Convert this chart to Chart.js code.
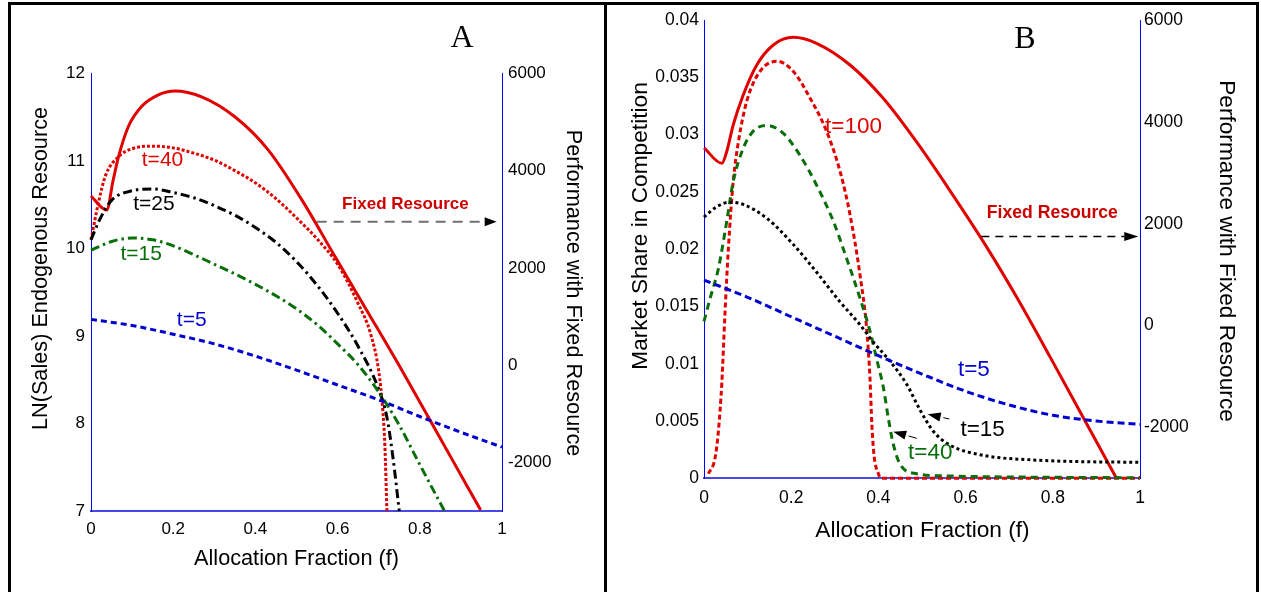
<!DOCTYPE html>
<html>
<head>
<meta charset="utf-8">
<script src="https://cdn.jsdelivr.net/npm/chart.js@4.4.0/dist/chart.umd.min.js"></script>
<style>
  html, body { margin: 0; padding: 0; background: #fff; }
  #page { position: relative; width: 1261px; height: 592px; overflow: hidden; background: #fff; }
  .rule { position: absolute; background: #000; }
  canvas { position: absolute; top: 0; }
</style>
</head>
<body>
<div id="page">
  <canvas id="chartA" width="593" height="592" style="left:11px"></canvas>
  <canvas id="chartB" width="649" height="592" style="left:607px"></canvas>
  <div class="rule" style="left:8px;top:2px;width:1251px;height:3px"></div>
  <div class="rule" style="left:8px;top:2px;width:3px;height:590px"></div>
  <div class="rule" style="left:604px;top:2px;width:3px;height:590px"></div>
  <div class="rule" style="left:1256px;top:2px;width:3px;height:590px"></div>
</div>
<script>
Chart.defaults.font.family = '"Liberation Sans", Arial, sans-serif';
Chart.defaults.color = '#000';

const SANS = '"Liberation Sans", Arial, sans-serif';
const SERIF = '"Liberation Serif", "Times New Roman", serif';

// shared tick values
const fTicks = [0, 0.2, 0.4, 0.6, 0.8, 1];
const perfTicks = [-2000, 0, 2000, 4000, 6000];

// ---- panel A: LN(Sales) vs allocation fraction ----
const salesTicksA = [7, 8, 9, 10, 11, 12];

const fA5 = [0, 0.1, 0.2, 0.3, 0.4, 0.5, 0.6, 0.7, 0.8, 0.9, 1];
const salesA5 = [9.19, 9.12, 9.02, 8.91, 8.77, 8.61, 8.44, 8.27, 8.08, 7.90, 7.73];

const fA15 = [0, 0.05, 0.1, 0.15, 0.2, 0.25, 0.3, 0.35, 0.4, 0.45, 0.5, 0.55, 0.6, 0.65, 0.7, 0.75, 0.8, 0.86];
const salesA15 = [9.98, 10.08, 10.12, 10.10, 10.03, 9.93, 9.82, 9.71, 9.59, 9.46, 9.31, 9.13, 8.91, 8.67, 8.36, 7.98, 7.53, 7.00];

const fA25 = [0, 0.02, 0.05, 0.1, 0.15, 0.2, 0.25, 0.3, 0.35, 0.4, 0.45, 0.5, 0.55, 0.6, 0.65, 0.7, 0.72, 0.735, 0.75];
const salesA25 = [10.10, 10.32, 10.55, 10.66, 10.68, 10.64, 10.58, 10.49, 10.38, 10.24, 10.07, 9.85, 9.58, 9.26, 8.88, 8.39, 8.07, 7.60, 7.00];

const fA40 = [0, 0.018, 0.035, 0.067, 0.1, 0.15, 0.2, 0.25, 0.3, 0.35, 0.4, 0.45, 0.5, 0.55, 0.6, 0.65, 0.68, 0.7, 0.71, 0.715, 0.72];
const salesA40 = [10.10, 10.52, 10.83, 11.05, 11.14, 11.17, 11.15, 11.09, 11.01, 10.89, 10.75, 10.57, 10.35, 10.11, 9.82, 9.37, 9.03, 8.60, 8.15, 7.75, 7.00];

const fAfix = [0, 0.038, 0.054, 0.067, 0.091, 0.123, 0.164, 0.204, 0.269, 0.35, 0.431, 0.513, 0.594, 0.675, 0.756, 0.837, 0.918, 0.948];
const perfA = [3480, 3190, 3810, 4290, 4910, 5320, 5560, 5640, 5520, 5110, 4430, 3400, 2230, 1070, -100, -1315, -2530, -2980];

// ---- panel B: market share vs allocation fraction ----
const shareTicksB = [0, 0.005, 0.01, 0.015, 0.02, 0.025, 0.03, 0.035, 0.04];

const fB5 = [0, 0.1, 0.2, 0.3, 0.4, 0.5, 0.6, 0.7, 0.8, 0.9, 1];
const shareB5 = [0.0173, 0.0158, 0.0141, 0.0124, 0.0107, 0.0091, 0.0076, 0.0064, 0.0055, 0.0050, 0.0047];

const fB15 = [0, 0.029, 0.06, 0.09, 0.144, 0.205, 0.258, 0.312, 0.358, 0.388, 0.427, 0.465, 0.495, 0.526, 0.564, 0.641, 0.755, 0.87, 1];
const shareB15 = [0.0228, 0.0237, 0.0241, 0.0239, 0.0227, 0.0204, 0.0180, 0.0154, 0.0134, 0.0119, 0.0102, 0.0082, 0.0060, 0.0041, 0.0029, 0.0020, 0.0016, 0.00145, 0.0014];

const fB40 = [0, 0.014, 0.033, 0.052, 0.067, 0.09, 0.113, 0.144, 0.182, 0.22, 0.258, 0.297, 0.327, 0.358, 0.381, 0.396, 0.411, 0.423, 0.434, 0.45, 0.488, 0.564, 0.755, 1];
const shareB40 = [0.0137, 0.0157, 0.0183, 0.0224, 0.0259, 0.0288, 0.0303, 0.0308, 0.0301, 0.0282, 0.0256, 0.0224, 0.0192, 0.0157, 0.0128, 0.0104, 0.0080, 0.0052, 0.0030, 0.0012, 0.0004, 0.0002, 0.0001, 0.00005];

const fB100 = [0.01, 0.025, 0.033, 0.041, 0.048, 0.056, 0.067, 0.079, 0.098, 0.128, 0.167, 0.205, 0.243, 0.281, 0.312, 0.335, 0.358, 0.373, 0.381, 0.385, 0.39, 0.4, 0.406, 1];
const shareB100 = [0.0004, 0.0017, 0.0041, 0.0084, 0.0143, 0.0201, 0.0259, 0.0294, 0.0329, 0.0355, 0.0364, 0.0355, 0.0332, 0.0303, 0.0268, 0.0230, 0.0177, 0.0131, 0.0085, 0.0047, 0.0020, 0.0004, 0, 0];

const fBfix = [0, 0.041, 0.052, 0.067, 0.09, 0.121, 0.159, 0.205, 0.258, 0.335, 0.411, 0.488, 0.564, 0.647, 0.717, 0.794, 0.87, 0.946];
const perfB = [3490, 3185, 3414, 3938, 4527, 5116, 5509, 5659, 5542, 5116, 4462, 3600, 2650, 1560, 560, -620, -1810, -3000];

const RED = '#e00000';
const GREEN = '#0a6e0a';
const BLUE = '#0000d0';

function series(fs, vs, color, width, dash, axisId) {
  return {
    data: fs.map((f, i) => ({ x: f, y: vs[i] })),
    borderColor: color,
    borderWidth: width,
    borderDash: dash,
    yAxisID: axisId,
    pointRadius: 0,
    fill: false,
    clip: 3,
    tension: 0.4,
    cubicInterpolationMode: 'monotone'
  };
}

// linear axis with fixed tick list and a fixed box size
function axis(position, min, max, ticks, fmt, size, pad, fontSize, border) {
  return {
    type: 'linear',
    position: position,
    min: min,
    max: max,
    grid: { display: false, drawTicks: false },
    border: border,
    afterBuildTicks: s => { s.ticks = ticks.map(v => ({ value: v })); },
    afterFit: s => { if (s.isHorizontal()) s.height = size; else s.width = size; },
    ticks: {
      padding: pad,
      autoSkip: false,
      maxRotation: 0,
      font: { size: fontSize },
      callback: fmt
    }
  };
}

const fmtF = v => String(+v.toFixed(1));
const fmtInt = v => String(v);
const fmtShare = v => String(+v.toFixed(3));

const sideBorder = { display: true, color: '#0000ff', width: 1 };
const baseBorder = { display: true, color: '#4848e8', width: 2 };

// labels, arrows and axis titles drawn on top of the plot
function notesPlugin(notes) {
  return {
    id: 'notes',
    afterDraw(chart) {
      const ctx = chart.ctx;
      const px = f => chart.scales.x.getPixelForValue(f);
      const py = v => chart.scales.y.getPixelForValue(v);
      ctx.save();

      notes.arrows.forEach(a => {
        const x0 = px(a.from[0]), y0 = py(a.from[1]);
        const x1 = px(a.to[0]), y1 = py(a.to[1]);
        const ang = Math.atan2(y1 - y0, x1 - x0);
        const c = Math.cos(ang), s = Math.sin(ang);
        ctx.strokeStyle = a.color;
        ctx.lineWidth = a.width;
        ctx.setLineDash(a.dash);
        ctx.beginPath();
        ctx.moveTo(x0, y0);
        ctx.lineTo(x1 - c * (a.head + a.gap), y1 - s * (a.head + a.gap));
        ctx.stroke();
        ctx.setLineDash([]);
        ctx.fillStyle = '#000';
        ctx.beginPath();
        ctx.moveTo(x1, y1);
        ctx.lineTo(x1 - c * a.head + s * a.half, y1 - s * a.head - c * a.half);
        ctx.lineTo(x1 - c * a.head - s * a.half, y1 - s * a.head + c * a.half);
        ctx.closePath();
        ctx.fill();
      });

      ctx.textAlign = 'center';
      ctx.textBaseline = 'middle';
      notes.labels.forEach(l => {
        ctx.font = l.font;
        ctx.fillStyle = l.color;
        ctx.fillText(l.text, px(l.f), py(l.v));
      });

      notes.titles.forEach(t => {
        ctx.save();
        ctx.translate(t.x, t.y);
        ctx.rotate(t.rot);
        ctx.font = t.font;
        ctx.fillStyle = '#000';
        ctx.fillText(t.text, 0, 0);
        ctx.restore();
      });

      ctx.restore();
    }
  };
}

const notesA = {
  arrows: [
    { from: [0.549, 10.306], to: [0.987, 10.306], color: '#707070', width: 2, dash: [10, 7], head: 12, half: 4.5, gap: 0 }
  ],
  labels: [
    { text: 'A', f: 0.903, v: 12.40, color: '#000', font: '32px ' + SERIF },
    { text: 't=40', f: 0.174, v: 11.01, color: RED, font: '21px ' + SANS },
    { text: 't=25', f: 0.153, v: 10.51, color: '#000', font: '21px ' + SANS },
    { text: 't=15', f: 0.122, v: 9.94, color: GREEN, font: '21px ' + SANS },
    { text: 't=5', f: 0.245, v: 9.18, color: BLUE, font: '21px ' + SANS },
    { text: 'Fixed Resource', f: 0.765, v: 10.51, color: '#cc0000', font: 'bold 17px ' + SANS }
  ],
  titles: [
    { text: 'LN(Sales) Endogenous Resource', x: 30.5, y: 268.5, rot: -Math.PI / 2, font: '21.7px ' + SANS },
    { text: 'Performance with Fixed Resource', x: 562, y: 293, rot: Math.PI / 2, font: '21.7px ' + SANS },
    { text: 'Allocation Fraction (f)', x: 285.5, y: 559, rot: 0, font: '21.7px ' + SANS }
  ]
};

const notesB = {
  arrows: [
    { from: [0.636, 0.0211], to: [0.996, 0.0211], color: '#000', width: 1.5, dash: [8, 6], head: 14, half: 4.5, gap: 0 },
    { from: [0.5626, 0.00518], to: [0.5131, 0.00559], color: '#000', width: 1, dash: [], head: 13, half: 4.5, gap: 3 },
    { from: [0.488, 0.00349], to: [0.434, 0.00407], color: '#000', width: 1, dash: [], head: 13, half: 4.5, gap: 3 }
  ],
  labels: [
    { text: 'B', f: 0.736, v: 0.03825, color: '#000', font: '32px ' + SERIF },
    { text: 't=100', f: 0.343, v: 0.0307, color: RED, font: '22.5px ' + SANS },
    { text: 't=5', f: 0.619, v: 0.00945, color: BLUE, font: '22.5px ' + SANS },
    { text: 't=15', f: 0.639, v: 0.00422, color: '#000', font: '22.5px ' + SANS },
    { text: 't=40', f: 0.519, v: 0.00221, color: GREEN, font: '22.5px ' + SANS },
    { text: 'Fixed Resource', f: 0.799, v: 0.02313, color: '#cc0000', font: 'bold 17.6px ' + SANS }
  ],
  titles: [
    { text: 'Market Share in Competition', x: 34, y: 226, rot: -Math.PI / 2, font: '22.7px ' + SANS },
    { text: 'Performance with Fixed Resource', x: 619, y: 251, rot: Math.PI / 2, font: '22.7px ' + SANS },
    { text: 'Allocation Fraction (f)', x: 315.5, y: 531, rot: 0, font: '22.7px ' + SANS }
  ]
};

new Chart(document.getElementById('chartA').getContext('2d'), {
  type: 'line',
  data: {
    datasets: [
      series(fA5, salesA5, BLUE, 3, [6, 4], 'y'),
      series(fA15, salesA15, GREEN, 3, [9, 4, 2.5, 4], 'y'),
      series(fA25, salesA25, '#000', 3, [9, 4, 2.5, 4], 'y'),
      series(fA40, salesA40, RED, 3, [3, 2], 'y'),
      series(fAfix, perfA, RED, 3, [], 'perf')
    ]
  },
  options: {
    responsive: false,
    animation: false,
    layout: { padding: { top: 73.5, left: 0, right: 0, bottom: 0 } },
    plugins: { legend: { display: false }, tooltip: { enabled: false } },
    scales: {
      x: axis('bottom', 0, 1, fTicks, fmtF, 81, 8, 17, baseBorder),
      y: axis('left', 7, 12, salesTicksA, fmtInt, 80, 6, 17, sideBorder),
      perf: axis('right', -3000, 6000, perfTicks, fmtInt, 102, 6, 17, sideBorder)
    }
  },
  plugins: [notesPlugin(notesA)]
});

new Chart(document.getElementById('chartB').getContext('2d'), {
  type: 'line',
  data: {
    datasets: [
      series(fB5, shareB5, BLUE, 3, [7, 4], 'y'),
      series(fB15, shareB15, '#000', 3, [3, 3], 'y'),
      series(fB40, shareB40, GREEN, 3, [7, 5], 'y'),
      series(fB100, shareB100, RED, 3, [5, 3], 'y'),
      series(fBfix, perfB, RED, 3, [], 'perf')
    ]
  },
  options: {
    responsive: false,
    animation: false,
    layout: { padding: { top: 20, left: 0, right: 0, bottom: 0 } },
    plugins: { legend: { display: false }, tooltip: { enabled: false } },
    scales: {
      x: axis('bottom', 0, 1, fTicks, fmtF, 113.7, 9.5, 17.5, baseBorder),
      y: axis('left', 0, 0.04, shareTicksB, fmtShare, 97, 5, 17.5, sideBorder),
      perf: axis('right', -3000, 6000, perfTicks, fmtInt, 116, 4, 17.5, sideBorder)
    }
  },
  plugins: [notesPlugin(notesB)]
});
</script>
</body>
</html>
